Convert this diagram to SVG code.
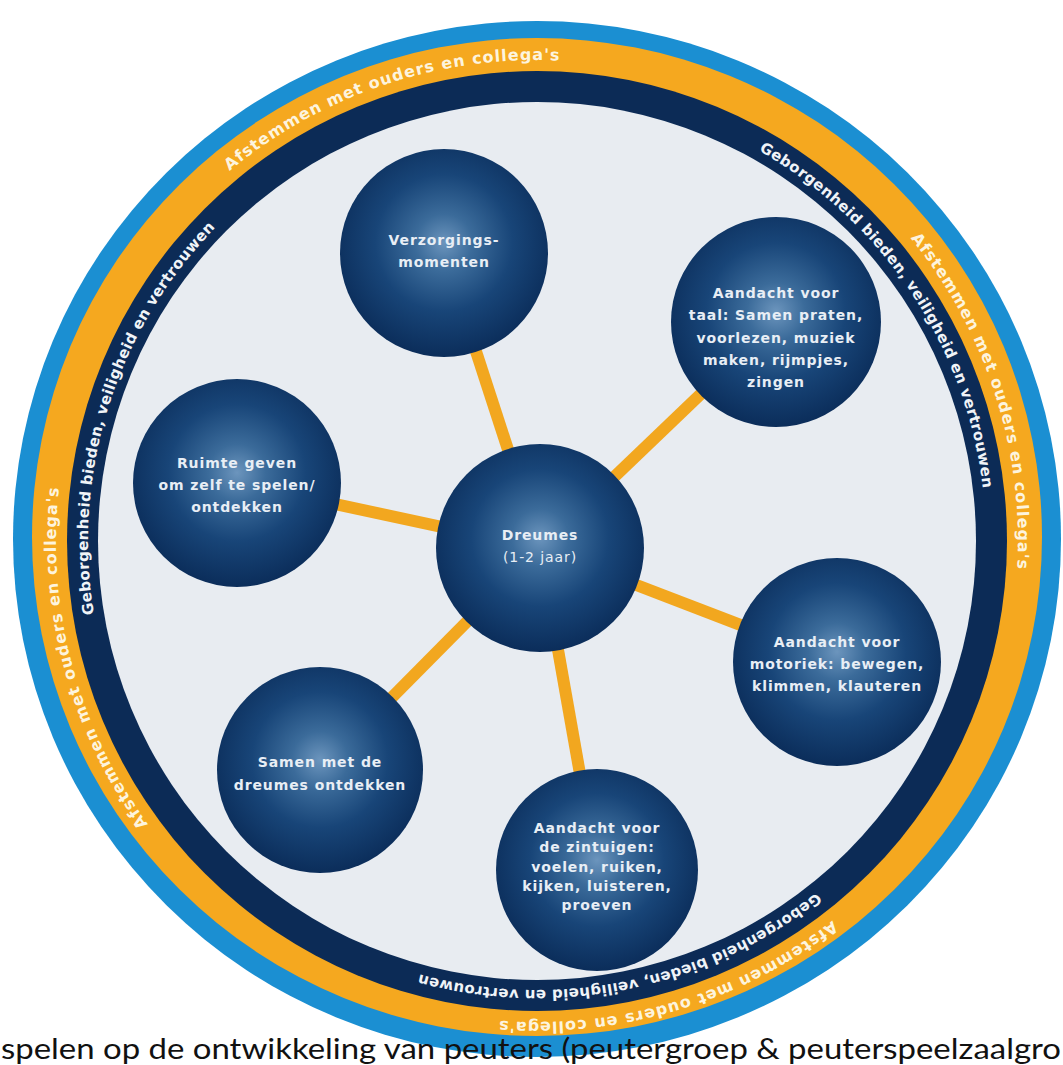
<svg xmlns="http://www.w3.org/2000/svg" xmlns:xlink="http://www.w3.org/1999/xlink" width="1063" height="1065" viewBox="0 0 1063 1065">
  <defs>
    <radialGradient id="nodeGrad" cx="50%" cy="45%" r="55%">
      <stop offset="0" stop-color="#6c95bd"/>
      <stop offset="0.25" stop-color="#3b6b9a"/>
      <stop offset="0.6" stop-color="#184578"/>
      <stop offset="1" stop-color="#0b2d5a"/>
    </radialGradient>
    <path id="orangePath" d="M 56 541 A 481 481 0 1 1 1018 541 A 481 481 0 1 1 56 541 A 481 481 0 1 1 1018 541 A 481 481 0 1 1 56 541"/>
    <path id="navyPath" d="M 88 541 A 449 449 0 1 1 986 541 A 449 449 0 1 1 88 541 A 449 449 0 1 1 986 541 A 449 449 0 1 1 88 541"/>
  </defs>
  <style>
    .ringtxt { font-family: "DejaVu Sans", "Liberation Sans", sans-serif; font-weight: bold; }
    .otxt { font-size: 16px; letter-spacing: 1px; fill: #fdf4de; }
    .ntxt { font-size: 15px; letter-spacing: 0.35px; fill: #f0f4f8; }
    .node { fill: url(#nodeGrad); }
    .ntext { font-family: "DejaVu Sans", "Liberation Sans", sans-serif; font-weight: bold; font-size: 14px; letter-spacing: 0.9px; fill: #e8eef5; text-anchor: middle; }
    .conn { stroke: #f2a71f; stroke-width: 12; fill: none; }
    .caption { font-family: Lato, "Liberation Sans", sans-serif; font-size: 28px; fill: #111111; }
  </style>
  <rect width="1063" height="1065" fill="#ffffff"/>
  <g id="rings">
    <ellipse cx="537" cy="539" rx="524" ry="518" fill="#1b8fd2"/>
    <ellipse cx="537" cy="537" rx="505" ry="499" fill="#f5a81f"/>
    <circle cx="537" cy="541" r="470" fill="#0c2b56"/>
    <circle cx="537" cy="541" r="439" fill="#e8ecf1"/>
  </g>
  <g id="ring-texts" class="ringtxt">
    <text class="otxt"><textPath xlink:href="#orangePath" href="#orangePath" startOffset="422">Afstemmen met ouders en collega's</textPath></text>
    <text class="otxt"><textPath xlink:href="#orangePath" href="#orangePath" startOffset="1183">Afstemmen met ouders en collega's</textPath></text>
    <text class="otxt"><textPath xlink:href="#orangePath" href="#orangePath" startOffset="1948">Afstemmen met ouders en collega's</textPath></text>
    <text class="otxt"><textPath xlink:href="#orangePath" href="#orangePath" startOffset="2719">Afstemmen met ouders en collega's</textPath></text>
    <text class="ntxt"><textPath xlink:href="#navyPath" href="#navyPath" startOffset="937">Geborgenheid bieden, veiligheid en vertrouwen</textPath></text>
    <text class="ntxt"><textPath xlink:href="#navyPath" href="#navyPath" startOffset="1814">Geborgenheid bieden, veiligheid en vertrouwen</textPath></text>
    <text class="ntxt"><textPath xlink:href="#navyPath" href="#navyPath" startOffset="2747">Geborgenheid bieden, veiligheid en vertrouwen</textPath></text>
  </g>
  <g id="connectors">
    <line class="conn" x1="540" y1="548" x2="444" y2="253"/>
    <line class="conn" x1="540" y1="548" x2="776" y2="322"/>
    <line class="conn" x1="540" y1="548" x2="237" y2="483"/>
    <line class="conn" x1="540" y1="548" x2="837" y2="662"/>
    <line class="conn" x1="540" y1="548" x2="597" y2="870"/>
    <line class="conn" x1="540" y1="548" x2="320" y2="770"/>
  </g>
  <g id="node-dreumes">
    <circle class="node" cx="540" cy="548" r="104"/>
    <text class="ntext" x="540" y="540">Dreumes</text>
    <text class="ntext" x="540" y="562" style="font-weight:normal">(1-2 jaar)</text>
  </g>
  <g id="node-verzorging">
    <circle class="node" cx="444" cy="253" r="104"/>
    <text class="ntext" x="444" y="245">Verzorgings-</text>
    <text class="ntext" x="444" y="267">momenten</text>
  </g>
  <g id="node-taal">
    <circle class="node" cx="776" cy="322" r="105"/>
    <text class="ntext" x="776" y="298">Aandacht voor</text>
    <text class="ntext" x="776" y="320">taal: Samen praten,</text>
    <text class="ntext" x="776" y="343">voorlezen, muziek</text>
    <text class="ntext" x="776" y="365">maken, rijmpjes,</text>
    <text class="ntext" x="776" y="387">zingen</text>
  </g>
  <g id="node-ruimte">
    <circle class="node" cx="237" cy="483" r="104"/>
    <text class="ntext" x="237" y="468">Ruimte geven</text>
    <text class="ntext" x="237" y="490">om zelf te spelen/</text>
    <text class="ntext" x="237" y="512">ontdekken</text>
  </g>
  <g id="node-motoriek">
    <circle class="node" cx="837" cy="662" r="104"/>
    <text class="ntext" x="837" y="647">Aandacht voor</text>
    <text class="ntext" x="837" y="669">motoriek: bewegen,</text>
    <text class="ntext" x="837" y="691">klimmen, klauteren</text>
  </g>
  <g id="node-samen">
    <circle class="node" cx="320" cy="770" r="103"/>
    <text class="ntext" x="320" y="767">Samen met de</text>
    <text class="ntext" x="320" y="790">dreumes ontdekken</text>
  </g>
  <g id="node-zintuigen">
    <circle class="node" cx="597" cy="870" r="101"/>
    <text class="ntext" x="597" y="833">Aandacht voor</text>
    <text class="ntext" x="597" y="852">de zintuigen:</text>
    <text class="ntext" x="597" y="872">voelen, ruiken,</text>
    <text class="ntext" x="597" y="891">kijken, luisteren,</text>
    <text class="ntext" x="597" y="910">proeven</text>
  </g>
  <text class="caption" x="1" y="1059" textLength="1060" lengthAdjust="spacingAndGlyphs">spelen op de ontwikkeling van peuters (peutergroep &amp; peuterspeelzaalgro</text>
</svg>
